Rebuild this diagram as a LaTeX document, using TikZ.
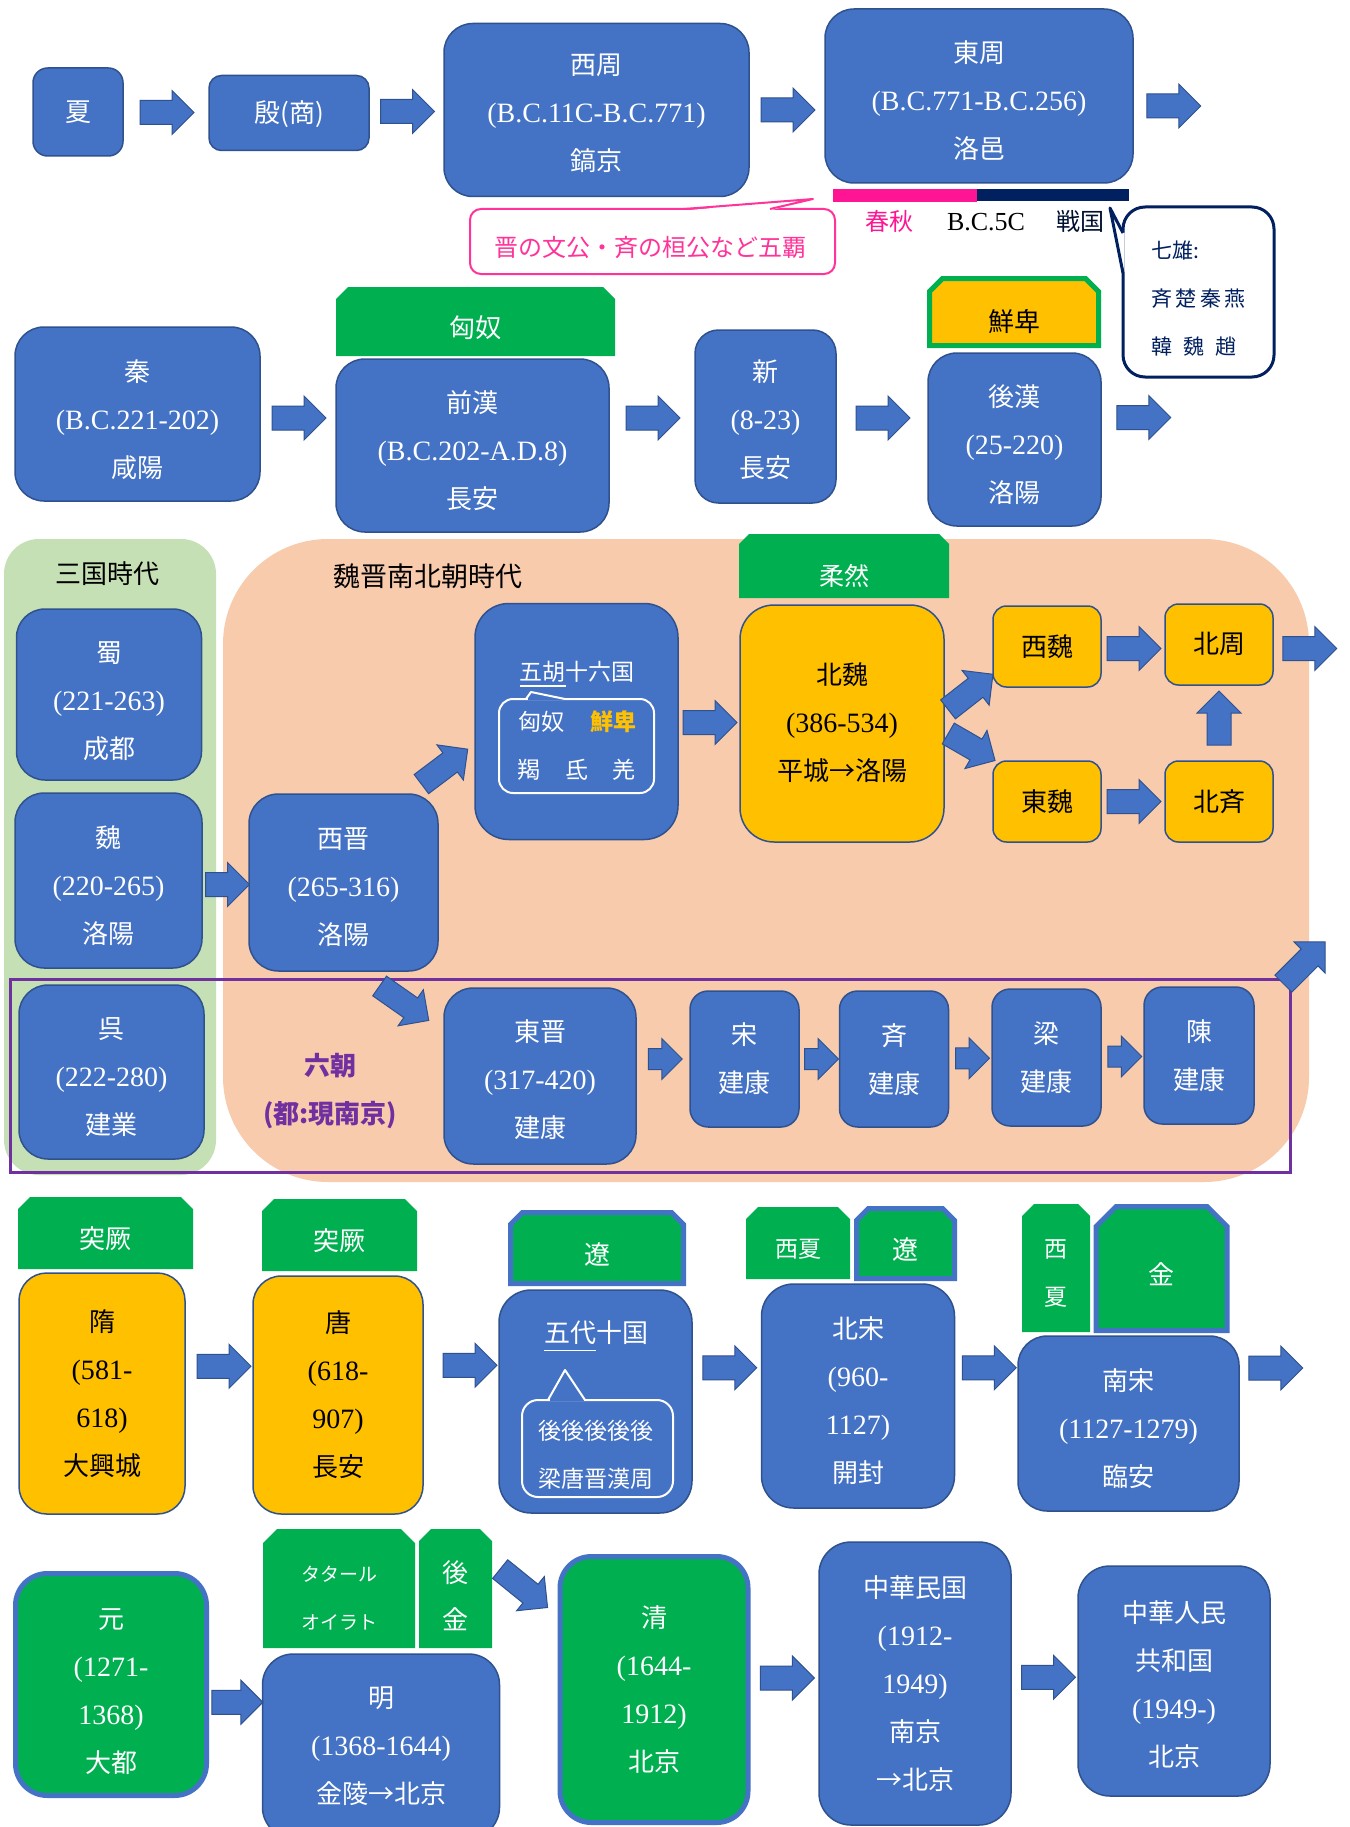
\documentclass[tikz,border=0pt]{standalone}
\usepackage{fontspec}
\setmainfont{Noto Sans CJK JP}
\newfontfamily\lat{Liberation Serif}
\usetikzlibrary{shapes.arrows,calc}
\definecolor{blueA}{HTML}{4472C4}
\definecolor{bordc}{HTML}{2F528F}
\definecolor{yel}{HTML}{FFC000}
\definecolor{grn}{HTML}{00B050}
\definecolor{lgreen}{HTML}{C5E0B4}
\definecolor{peach}{HTML}{F8CBAD}
\definecolor{purp}{HTML}{7030A0}
\definecolor{navy}{HTML}{002060}
\definecolor{pinkbar}{HTML}{FF1493}
\definecolor{pinkc}{HTML}{FF3399}
\newsavebox\ulbox
\newcommand\myul[2]{\sbox\ulbox{#2}\rlap{\rule[-#1]{\wd\ulbox}{1.8pt}}\usebox\ulbox}
\newcommand\dt[1]{{\lat\fontsize{28}{48}\selectfont#1}}
\tikzset{
 tlbox/.style={draw=bordc, fill=blueA, line width=1.5pt, inner sep=0pt},
 tltext/.style={text=white, align=center, inner sep=0pt, font=\fontsize{26}{48}\selectfont},
 ybox/.style={fill=yel, text=black},
 gbox/.style={fill=grn, draw=blueA, line width=5pt},
 tabfill/.style={fill=grn},
 tabtext/.style={text=white, align=center, inner sep=0pt, font=\fontsize{26}{48}\selectfont},
 btab/.style={draw=blueA, line width=5pt},
 sarrow/.style={single arrow, draw=bordc, fill=blueA, line width=1pt, inner sep=0pt, text height=23pt, text depth=0pt, minimum height=54pt, single arrow head extend=10pt},
 sarrowS/.style={sarrow, minimum height=34pt, text height=20pt, single arrow head extend=10pt},
 wt/.style={text=white, inner sep=0pt, font=\fontsize{23}{28}\selectfont},
 nv/.style={anchor=west, text=navy, inner sep=0pt, font=\fontsize{21}{24}\selectfont},
}
% box: [style]{name}{cx}{cy}{w}{h}{text dy}{text}
\newcommand\tlb[8][]{%
  \pgfmathsetmacro\rr{min(#5,#6)/6}%
  \node[tlbox,minimum width=#5pt,minimum height=#6pt,rounded corners=\rr pt,#1] (#2) at (#3,#4) {};
  \node[tltext,#1,draw=none,fill=none] (#2t) at (#3,{#4+#7}) {#8};}
% tab: [pathstyle]{name}{cx}{cy}{w}{h}{chamfer}{textstyle}{text}
\newcommand\tabx[9][]{%
  \path[tabfill,#1] ({#3-#5/2},{#4+#6/2}) -- ({#3-#5/2},{#4-#6/2+#7}) -- ({#3-#5/2+#7},{#4-#6/2}) -- ({#3+#5/2-#7},{#4-#6/2}) -- ({#3+#5/2},{#4-#6/2+#7}) -- ({#3+#5/2},{#4+#6/2}) -- cycle;
  \node[inner sep=0pt, minimum width=#5pt, minimum height=#6pt] (#2) at (#3,#4) {};
  \node[tabtext,#8] (#2t) at (#3,{#4+6}) {#9};}
\begin{document}
\begin{tikzpicture}[x=1pt,y=-1pt]
\useasboundingbox (0,0) rectangle (1349,1827);
\fill[white] (0,0) rectangle (1349,1827);

% backgrounds
\node[fill=lgreen, rounded corners=35pt, minimum width=212pt, minimum height=636pt, inner sep=0pt] (sgbg) at (110,857) {};
\node[fill=peach, rounded corners=105pt, minimum width=1086pt, minimum height=643pt, inner sep=0pt] (wjbg) at (766,860.5) {};
\node[draw=purp, line width=3pt, minimum width=1280pt, minimum height=193pt, inner sep=0pt] (liuchao) at (650,1075.5) {};

% row 1
\tlb{xia}{78}{112}{90}{88}{0}{夏}
\tlb{yin}{289}{113}{160}{75}{1}{殷(商)}
\tlb{xizhou}{596.5}{110}{305}{173}{3.5}{西周\\\dt{(B.C.11C-B.C.771)}\\鎬京}
\tlb{dongzhou}{979}{96}{308}{174}{5}{東周\\\dt{(B.C.771-B.C.256)}\\洛邑}
\fill[pinkbar] (833,189) rectangle (977,202);
\fill[navy] (977,189) rectangle (1129,201);
\node[text=pinkbar, font=\fontsize{24}{28}\selectfont] (chunqiu) at (889,221) {春秋};
\node[font=\lat\fontsize{26}{28}\selectfont] (bc5c) at (986,222) {B.C.5C};
\node[text=navy!50!black, font=\fontsize{24}{28}\selectfont] (zhanguo) at (1080,221) {戦国};

\node[draw=pinkc, line width=2pt, fill=white, rounded corners=11pt, minimum width=365pt, minimum height=65pt, inner sep=0pt] (wuba) at (652.5,241.5) {};
\fill[white] (684,210.5) -- (813,199) -- (770,210.5) -- cycle;
\draw[pinkc, line width=2pt, line join=round] (684,209) -- (813,199) -- (770,209);
\node[text=pinkc, inner sep=0pt, font=\fontsize{24}{28}\selectfont] (wubat) at (650,247.5) {晋の文公・斉の桓公など五覇};

\node[draw=navy, line width=3pt, fill=white, rounded corners=22pt, minimum width=151pt, minimum height=170pt, inner sep=0pt] (qx) at (1198.5,292) {};
\fill[white] (1124.5,233) -- (1110,208) -- (1124.5,273) -- cycle;
\draw[navy, line width=3pt, line join=round] (1123,233) -- (1110,208) -- (1123,273);
\node[nv] (qx1) at (1151,251) {七雄:};
\node[nv] (qx2) at (1151,299) {斉\,楚\,秦\,燕};
\node[nv] (qx3) at (1151,347) {韓\hspace{11pt}魏\hspace{11pt}趙};

% row 2
\tlb{qin}{137.5}{414}{245}{174}{6}{秦\\\dt{(B.C.221-202)}\\咸陽}
\tabx{xiongnu}{475.5}{321.5}{279}{69}{12}{}{匈奴}
\tlb{qianhan}{472.5}{445.5}{273}{173}{5}{前漢\\\dt{(B.C.202-A.D.8)}\\長安}
\tlb{xin}{765.5}{416.5}{141}{173}{3.5}{新\\\dt{(8-23)}\\長安}
\tabx[fill=yel, draw=grn, line width=5pt]{xianbei}{1014}{312}{169}{67}{13}{text=black, yshift=-3.5pt}{鮮卑}
\tlb{houhan}{1014.5}{439.5}{173}{173}{5.5}{後漢\\\dt{(25-220)}\\洛陽}

% row 3
\node[font=\fontsize{26}{30}\selectfont] (sgsd) at (107,574) {三国時代};
\node[font=\fontsize{27}{30}\selectfont] (wjnb) at (428,576) {魏晋南北朝時代};
\tlb{shu}{109}{694.5}{185}{171}{7}{蜀\\\dt{(221-263)}\\成都}
\tlb{wei}{108.5}{880.5}{187}{175}{5}{魏\\\dt{(220-265)}\\洛陽}
\tlb{wu}{111.5}{1072}{185}{174}{5.5}{呉\\\dt{(222-280)}\\建業}
\tlb{xijin}{343.5}{882.5}{189}{177}{5}{西晋\\\dt{(265-316)}\\洛陽}
\tlb{wuhu}{576.5}{721.5}{203}{236}{0}{}
\node[wt] (wuhut) at (577,674) {\myul{6pt}{五胡}十六国};
\node[draw=white, line width=2pt, rounded corners=14pt, minimum width=155pt, minimum height=94pt, inner sep=0pt] (wuhuin) at (576.5,746) {};
\draw[blueA, line width=2.6pt] (527.5,699) -- (563.5,699);
\draw[white, line width=2pt, line join=round] (526,699) -- (531,692) -- (565,699);
\node[wt] (hx1) at (541.5,721.5) {匈奴};
\node[wt, text=yel, font=\fontsize{23}{28}\selectfont\bfseries] (hx2) at (613,721.5) {鮮卑};
\node[wt] (hx3) at (529,770) {羯};
\node[wt] (hx4) at (577,770) {氐};
\node[wt] (hx5) at (624,770) {羌};
\tabx{rouran}{844}{566}{210}{64}{10}{font=\fontsize{25}{30}\selectfont, yshift=-3.5pt}{柔然}
\tlb[ybox]{beiwei}{842}{723.5}{204}{237}{-1}{北魏\\\dt{(386-534)}\\平城→洛陽}
\tlb[ybox]{xiwei}{1047}{646.5}{108}{81}{0}{西魏}
\tlb[ybox]{beizhou}{1219}{644.5}{108}{81}{-0.5}{北周}
\tlb[ybox]{dongwei}{1047}{801.5}{108}{81}{0}{東魏}
\tlb[ybox]{beiqi}{1219}{801.5}{108}{81}{0}{北斉}
\node[text=purp, align=center, font=\fontsize{26}{48}\selectfont\bfseries] (lct) at (330,1091.5) {六朝\\(都:現南京)};
\tlb{dongjin}{540}{1076}{192}{176}{3.5}{東晋\\\dt{(317-420)}\\建康}
\tlb{song}{744.5}{1059}{109}{136}{0}{宋\\建康}
\tlb{qi}{894}{1059}{109}{136}{0.5}{斉\\建康}
\tlb{liang}{1046.5}{1057.5}{109}{137}{0}{梁\\建康}
\tlb{chen}{1199}{1055.5}{110}{137}{0}{陳\\建康}

% row 4
\tabx{tujue1}{105.5}{1233}{175}{72}{12}{}{突厥}
\tlb[ybox]{sui}{102}{1393.5}{166}{241}{0}{隋\\\dt{(581-}\\\dt{618)}\\大興城}
\tabx{tujue2}{339.5}{1235}{155}{72}{12}{}{突厥}
\tlb[ybox]{tang}{338}{1395}{170}{238}{0}{唐\\\dt{(618-}\\\dt{907)}\\長安}
\tabx[btab]{liao1}{597}{1248}{173}{71}{12}{}{遼}
\tlb{wudai}{595.5}{1401.5}{193}{223}{0}{}
\node[wt, font=\fontsize{26}{30}\selectfont] (wudait) at (596,1336) {\myul{9pt}{五代}十国};
\node[draw=white, line width=2pt, rounded corners=16pt, minimum width=151pt, minimum height=97pt, inner sep=0pt] (wudaiin) at (597.5,1448.5) {};
\draw[blueA, line width=2.6pt] (549.5,1400) -- (583.5,1400);
\draw[white, line width=2pt, line join=round] (548,1400) -- (565,1370) -- (585,1400);
\node[wt, align=center, font=\fontsize{23}{47.5}\selectfont] (wdlist) at (596,1455) {後後後後後\\梁唐晋漢周};
\tabx{xixia1}{798}{1243}{104}{72}{12}{font=\fontsize{23}{28}\selectfont}{西夏}
\tabx[btab]{liao2}{905.5}{1243.5}{98}{70}{12}{}{遼}
\tlb{beisong}{858}{1396}{193}{224}{4.5}{北宋\\\dt{(960-}\\\dt{1127)}\\開封}
\tabx{xixia2}{1056}{1268}{68}{128}{12}{font=\fontsize{23}{48}\selectfont}{西\\夏}
\tabx[btab]{jin}{1161.6}{1268.5}{131}{124}{20}{}{金}
\tlb{nansong}{1128.5}{1423.5}{221}{175}{5}{南宋\\\dt{(1127-1279)}\\臨安}

% row 5
\tlb[gbox]{yuan}{111}{1684.5}{191}{222}{7}{元\\\dt{(1271-}\\\dt{1368)}\\大都}
\tabx{tatar}{339}{1588.5}{152}{119}{14}{font=\fontsize{19}{48}\selectfont, yshift=-4pt}{タタール\\オイラト}
\tabx{houjin}{455.5}{1588.5}{73}{119}{12}{font=\fontsize{26}{47}\selectfont, yshift=-1.5pt}{後\\金}
\tlb{ming}{381}{1746}{237}{184}{0}{明\\\dt{(1368-1644)}\\金陵→北京}
\tlb[gbox]{qing}{654}{1689.5}{188}{266}{0}{清\\\dt{(1644-}\\\dt{1912)}\\北京}
\tlb{zhmg}{915}{1683.5}{192}{283}{0}{中華民国\\\dt{(1912-}\\\dt{1949)}\\南京\\→北京}
\tlb{zhrm}{1174}{1681}{192}{230}{3.5}{中華人民\\共和国\\\dt{(1949-)}\\北京}

% arrows row 1
\node[sarrow] (a1) at ($(xia.east)!0.5!(yin.west)+(-5,0)$) {};
\node[sarrow] (a2) at ($(yin.east)!0.5!(xizhou.west)+(-5,0)$) {};
\node[sarrow] (a3) at ($(xizhou.east)!0.5!(dongzhou.west|-xizhou.east)+(-5,0)$) {};
\node[sarrow] (a4) at ($(dongzhou.east)+(34,10)$) {};
% row 2
\node[sarrow] (b1) at ($(qin.east)!0.5!(qianhan.west|-qin.east)+(-5,4)$) {};
\node[sarrow] (b2) at ($(qianhan.east|-xin.west)!0.5!(xin.west)+(-5,1.5)$) {};
\node[sarrow] (b3) at ($(xin.east)!0.5!(houhan.west|-xin.east)+(-5,1.5)$) {};
\node[sarrow] (b4) at ($(houhan.east)+(36,-22)$) {};
% row 3
\node[sarrow, minimum height=44pt] (c1) at ($(wei.east)!0.5!(xijin.west)+(-4,3)$) {};
\node[sarrow, minimum height=58pt, rotate=37] (c2) at ($(xijin.north east)+(1,-23)$) {};
\node[sarrow] (c3) at ($(wuhu.east)!0.5!(beiwei.west)+(-5,0)$) {};
\node[sarrow, minimum height=57pt, rotate=38] (c4) at ($(beiwei.east)+(21,-28)$) {};
\node[sarrow, minimum height=54pt, rotate=-30] (c5) at ($(beiwei.east)+(21.7,20.5)$) {};
\node[sarrow] (c6) at ($(xiwei.east)!0.5!(beizhou.west)+(-5,3)$) {};
\node[sarrow] (c7) at ($(beizhou.east)+(30,4)$) {};
\node[sarrow] (c8) at ($(dongwei.east)!0.5!(beiqi.west)+(-5,0)$) {};
\node[sarrow, rotate=90] (c9) at ($(beiqi.north)!0.5!(beizhou.south)+(0,1)$) {};
\node[sarrow, minimum height=60pt, rotate=-35] (c10) at ($(dongjin.north west)+(-44,12.5)$) {};
\node[sarrowS] (c11) at ($(dongjin.east|-song.west)!0.5!(song.west)+(-3,0)$) {};
\node[sarrowS] (c12) at ($(song.east)!0.5!(qi.west)+(-3,0)$) {};
\node[sarrowS] (c13) at ($(qi.east)!0.5!(liang.west)+(-3,0)$) {};
\node[sarrowS] (c14) at ($(liang.east)!0.5!(chen.west)+(-3,0)$) {};
\node[sarrow, minimum height=59pt, rotate=45] (c15) at ($(liuchao.north east)+(8.5,-10.5)$) {};
% row 4
\node[sarrow] (d1) at ($(sui.east)!0.5!(tang.west)+(-1,-28)$) {};
\node[sarrow] (d2) at ($(tang.east)!0.5!(wudai.west)+(3,-33)$) {};
\node[sarrow] (d3) at ($(wudai.east)!0.5!(beisong.west)+(-3,-31)$) {};
\node[sarrow] (d4) at ($(beisong.east)!0.5!(nansong.west)+(-3,-42)$) {};
\node[sarrow] (d5) at ($(nansong.east)+(30,-55.5)$) {};
% row 5
\node[sarrow, minimum height=51pt] (e1) at ($(yuan.east)!0.5!(ming.west)+(-4,-13)$) {};
\node[sarrow, minimum height=61pt, rotate=-39] (e2) at ($(houjin.east)+(27,-4)$) {};
\node[sarrow] (e3) at ($(qing.east)!0.5!(zhmg.west)+(-3,-8.5)$) {};
\node[sarrow] (e4) at ($(zhmg.east)!0.5!(zhrm.west)+(-2,-5)$) {};
\end{tikzpicture}
\end{document}
